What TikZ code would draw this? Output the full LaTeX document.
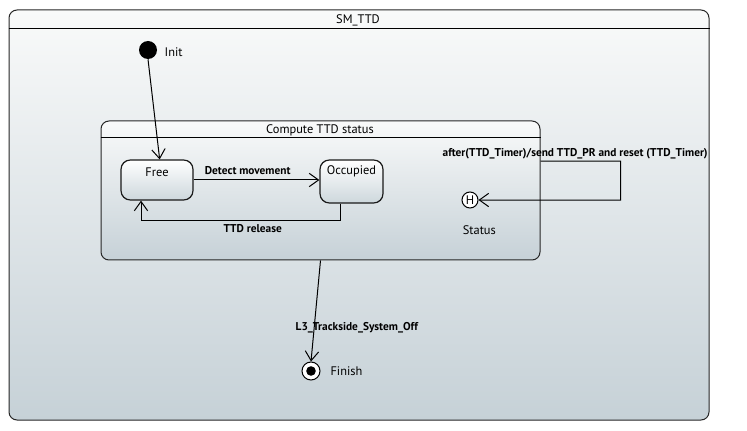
\documentclass[tikz,border=0pt]{standalone}
\usepackage{fontspec}
\setmainfont{PT Sans}
\usetikzlibrary{arrows.meta,fit}

\definecolor{umltop}{HTML}{F9FAFA}
\definecolor{umlbottom}{HTML}{C6D1D7}
\definecolor{statebottom}{HTML}{CDD7DC}

\begin{document}
\begin{tikzpicture}
        [x=0.75pt, y=-0.75pt,
        every node/.style={font=\fontsize{9.3}{11}\selectfont},
        region/.style={draw=black!85, line width=0.75pt, rounded corners=6pt,
          top color=umltop, bottom color=umlbottom, inner sep=0pt},
        simple state/.style={draw=black!90, line width=0.9pt, rounded corners=7pt,
          top color=white, bottom color=statebottom},
        pseudo/.style={circle, inner sep=0pt},
        trans/.style={-{Straight Barb[length=7pt,width=10pt]}, line width=0.75pt},
        lbl/.style={font=\fontsize{8.5}{10}\selectfont\bfseries, inner sep=1pt}]
        \useasboundingbox (0,0) rectangle (747,431);
        % state machine frame
        \node[region, fit={(9,10) (709,420)}] (sm) {};
        \draw[line width=0.75pt] ([yshift=-14.25pt]sm.north west) -- ([yshift=-14.25pt]sm.north east);
        \node (smname) at (358,20) {SM\_TTD};
        % composite state
        \node[region, fit={(101,121) (540,260)}] (compute) {};
        \draw[line width=0.75pt] ([yshift=-12.75pt]compute.north west) -- ([yshift=-12.75pt]compute.north east);
        \node (computename) at (320,130.5) {Compute TTD status};
        % states
        \node[simple state, minimum width=54pt, minimum height=30pt,
          label={[anchor=center, yshift=-9.5pt]north:Free}] (free) at (157,180) {};
        \node[simple state, minimum width=47.25pt, minimum height=32.25pt,
          label={[anchor=center, yshift=-9pt]north:Occupied}] (occupied) at (351.5,181.5) {};
        % pseudo states
        \node[pseudo, fill=black, minimum size=13.5pt,
          label={[xshift=2pt, yshift=-1.5pt]right:Init}] (init) at (148,50) {};
        \node[pseudo, draw, fill=white, line width=0.75pt, minimum size=12pt,
          label={[xshift=7pt, yshift=-9pt]below:Status}] (hist) at (470,200) {H};
        \node[pseudo, draw, fill=white, line width=0.75pt, minimum size=13.5pt,
          path picture={\fill[black] (path picture bounding box.center) circle (3.6pt);},
          label={[xshift=4pt]right:Finish}] (finish) at (311,371) {};
        % transitions
        \draw[trans] (init.south) -- ([xshift=2pt]free.north);
        \draw[trans] (free.east) -- node[lbl, above, pos=0.43, yshift=3pt] {Detect movement} (free.east -| occupied.west);
        \draw[trans] ([xshift=-8.25pt]occupied.south) -- ++(0,17)
          -| node[lbl, below, pos=0.22, yshift=-1.5pt] {TTD release} ([xshift=-12pt]free.south);
        \draw[trans] ([yshift=22pt]compute.east) -- node[lbl, above, xshift=-4pt] {after(TTD\_Timer)/send TTD\_PR and reset (TTD\_Timer)} ++(80,0)
          -- ++(0,39) -- (hist.east);
        \draw[trans] (compute.south) -- node[lbl, pos=0.67, xshift=32pt] {L3\_Trackside\_System\_Off} (finish.north);
\end{tikzpicture}
\end{document}
